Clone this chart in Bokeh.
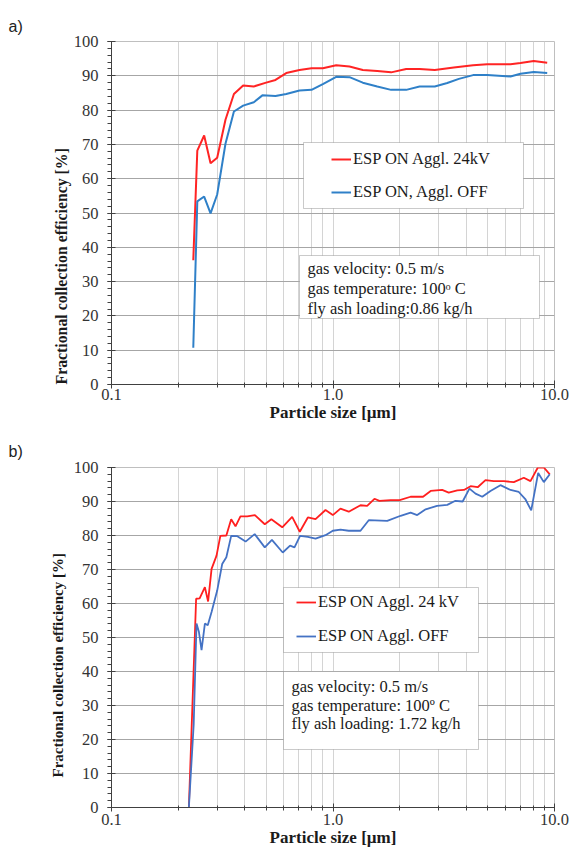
from bokeh.plotting import figure
from bokeh.layouts import column
from bokeh.models import (FixedTicker, PrintfTickFormatter, Label, BoxAnnotation,
                          Legend, LegendItem, Title)
from bokeh.embed import file_html
from bokeh.resources import INLINE

# ---------------- data ----------------
x_major = [0.1, 1.0, 10.0]
x_minor = [0.2, 0.3, 0.4, 0.5, 0.6, 0.7, 0.8, 0.9, 2, 3, 4, 5, 6, 7, 8, 9]
y_major = [0, 10, 20, 30, 40, 50, 60, 70, 80, 90, 100]
y_minor = list(range(0, 101, 2))

# panel a) fly ash loading 0.86 kg/h
size_a_on = [0.234, 0.244, 0.262, 0.280, 0.300, 0.327, 0.357, 0.393, 0.439, 0.499,
             0.550, 0.615, 0.706, 0.80, 0.90, 1.034, 1.187, 1.363, 1.584, 1.83,
             2.14, 2.46, 2.88, 3.51, 4.29, 4.97, 6.33, 7.02, 8.06, 9.27]
eff_a_on = [36.2, 68.2, 72.6, 64.5, 66.1, 77.2, 84.7, 87.2, 86.9, 88.0,
            88.8, 90.8, 91.7, 92.2, 92.2, 93.1, 92.7, 91.7, 91.4, 91.0,
            92.0, 92.0, 91.7, 92.4, 93.1, 93.4, 93.4, 93.7, 94.3, 93.8]
size_a_off = [0.234, 0.244, 0.262, 0.280, 0.300, 0.327, 0.357, 0.393, 0.439, 0.48,
              0.55, 0.615, 0.706, 0.80, 0.90, 1.034, 1.187, 1.363, 1.584, 1.83,
              2.14, 2.46, 2.88, 3.28, 3.70, 4.29, 4.97, 6.33, 7.02, 8.06, 9.27]
eff_a_off = [10.7, 53.4, 54.8, 49.9, 55.4, 70.2, 79.6, 81.3, 82.3, 84.3,
             84.1, 84.7, 85.7, 85.9, 87.6, 89.7, 89.6, 88.0, 86.9, 85.9,
             85.9, 86.9, 86.9, 87.9, 89.1, 90.2, 90.2, 89.8, 90.6, 91.1, 90.8]

# panel b) fly ash loading 1.72 kg/h
size_b_on = [0.2235, 0.241, 0.25, 0.264, 0.273, 0.283, 0.298, 0.310, 0.330, 0.347,
             0.363, 0.382, 0.410, 0.444, 0.492, 0.527, 0.590, 0.654, 0.708, 0.77,
             0.834, 0.925, 0.998, 1.081, 1.178, 1.331, 1.426, 1.539, 1.62, 1.82,
             2.0, 2.24, 2.55, 2.76, 3.11, 3.33, 3.64, 3.90, 4.18, 4.5,
             4.88, 5.32, 5.90, 6.55, 7.27, 7.79, 8.41, 8.95, 9.52]
eff_b_on = [0.0, 61.4, 61.5, 64.8, 60.6, 70.2, 74.1, 79.9, 80.0, 84.8,
            82.7, 85.6, 85.6, 86.0, 83.3, 84.8, 82.4, 85.5, 81.1, 85.3,
            84.8, 87.5, 86.0, 87.9, 87.0, 88.9, 88.7, 90.8, 90.2, 90.4,
            90.4, 91.4, 91.4, 93.1, 93.4, 92.6, 93.3, 93.4, 94.5, 94.2,
            96.3, 96.0, 96.0, 95.7, 97.0, 96.0, 100.0, 100.0, 98.0]
size_b_off = [0.2235, 0.235, 0.242, 0.248, 0.255, 0.264, 0.272, 0.283, 0.300, 0.316,
              0.330, 0.347, 0.37, 0.403, 0.443, 0.492, 0.53, 0.593, 0.64, 0.67,
              0.71, 0.77, 0.834, 0.925, 0.998, 1.081, 1.178, 1.331, 1.45, 1.757,
              2.02, 2.24, 2.4, 2.62, 2.95, 3.28, 3.57, 3.85, 4.13, 4.40,
              4.72, 5.14, 5.70, 6.33, 6.9, 7.40, 7.85, 8.44, 8.95, 9.52]
eff_b_off = [0.0, 24.4, 54.1, 51.7, 46.3, 54.1, 53.6, 57.5, 63.8, 71.6,
             73.6, 79.9, 79.8, 78.2, 80.4, 76.5, 78.7, 75.0, 77.0, 76.5,
             79.9, 79.6, 79.1, 80.1, 81.4, 81.7, 81.4, 81.4, 84.5, 84.3,
             85.8, 86.7, 86.0, 87.7, 88.7, 89.0, 90.2, 90.0, 93.8, 92.3,
             91.4, 93.1, 94.8, 93.4, 92.8, 90.6, 87.4, 98.4, 95.7, 98.0]

labels_a = ["ESP ON Aggl. 24kV", "ESP ON, Aggl. OFF"]
labels_b = ["ESP ON Aggl. 24 kV", "ESP ON Aggl. OFF"]
info_a = ["gas velocity:  0.5 m/s", "gas temperature:  100\u1d52 C", "fly ash loading:0.86 kg/h"]
info_b = ["gas velocity: 0.5 m/s", "gas temperature:   100\u00ba C", "fly ash loading: 1.72 kg/h"]
x_title = "Particle size [\u00b5m]"
y_title = "Fractional collection efficiency [%]"
panel_tags = ["a)", "b)"]

SERIF = "Liberation Serif"
SANS = "Liberation Sans"
AX = "#404040"
TXT = "#1a1a1a"


def make_fig(height, top, bottom, xlab_standoff):
    p = figure(width=571, height=height, x_axis_type="log", x_range=(0.1, 10),
               y_range=(0, 100), output_backend="svg", toolbar_location=None,
               min_border_left=111, min_border_right=17,
               min_border_top=top, min_border_bottom=bottom)
    p.outline_line_color = "#BFBFBF"
    p.background_fill_color = "white"
    p.border_fill_color = "white"
    p.xaxis.ticker = FixedTicker(ticks=x_major, minor_ticks=x_minor)
    p.xaxis.formatter = PrintfTickFormatter(format="%.1f")
    p.yaxis.ticker = FixedTicker(ticks=y_major, minor_ticks=y_minor)
    p.xgrid.grid_line_color = "#D4D4D4"
    p.xgrid.minor_grid_line_color = "#D4D4D4"
    p.ygrid.grid_line_color = "#A6A6A6"
    for ax in (p.xaxis, p.yaxis):
        ax.axis_line_color = AX
        ax.major_tick_line_color = AX
        ax.minor_tick_line_color = AX
        ax.major_tick_in = 4
        ax.major_tick_out = 4
        ax.major_label_text_font = SERIF
        ax.major_label_text_font_size = "16.5px"
        ax.major_label_text_color = "#333333"
    p.xaxis.minor_tick_in = 2
    p.xaxis.minor_tick_out = 3
    p.yaxis.minor_tick_in = 0
    p.yaxis.minor_tick_out = 4
    p.yaxis.major_label_standoff = 9
    p.xaxis.major_label_standoff = xlab_standoff
    p.xaxis.axis_label = x_title
    p.xaxis.axis_label_text_font = SERIF
    p.xaxis.axis_label_text_font_size = "17px"
    p.xaxis.axis_label_text_font_style = "bold"
    p.xaxis.axis_label_text_color = TXT
    p.xaxis.axis_label_standoff = 0
    return p


def lab(p, x, y, text, size="16.5px"):
    p.add_layout(Label(x=x, y=y, x_units="screen", y_units="screen", text=text,
                       text_font=SERIF, text_font_size=size,
                       text_color=TXT, text_align="left", text_baseline="middle"))


def box(p, left, right, bottom, top):
    p.add_layout(BoxAnnotation(left=left, right=right, bottom=bottom, top=top,
                               left_units="screen", right_units="screen",
                               bottom_units="screen", top_units="screen",
                               fill_color="white", fill_alpha=1.0,
                               line_color="#505050", line_width=1))


def ytitle(p, offset, size, standoff):
    p.add_layout(Title(text=y_title, align="left", offset=offset, standoff=standoff,
                       text_font=SERIF, text_font_size=size, text_font_style="bold",
                       text_color=TXT), "left")


def tag(p, text, standoff):
    p.add_layout(Title(text=text, align="left", offset=-103, standoff=standoff,
                       text_font=SANS, text_font_size="16px", text_font_style="normal",
                       text_color="#222222"), "above")


# ---------------- panel a ----------------
pa = make_fig(428, 41, 44, 0)
ra1 = pa.line(size_a_on, eff_a_on, line_color="#FF2424", line_width=2)
ra2 = pa.line(size_a_off, eff_a_off, line_color="#2F80C8", line_width=2)
box(pa, 192, 412, 176, 242)
pa.add_layout(Legend(items=[LegendItem(label=labels_a[0], renderers=[ra1]),
                            LegendItem(label=labels_a[1], renderers=[ra2])],
                     location=(220, 182), padding=0, spacing=13, margin=0,
                     glyph_width=20, glyph_height=20, label_height=20,
                     label_standoff=2, border_line_color=None,
                     background_fill_alpha=0, label_text_font=SERIF,
                     label_text_font_size="16.5px", label_text_color=TXT))
box(pa, 188, 428, 66, 129)
for i, t in enumerate(info_a):
    lab(pa, 196, 116 - 20 * i, t)
ytitle(pa, 0, "15.8px", 1)
tag(pa, panel_tags[0], 14)

# ---------------- panel b ----------------
pb = make_fig(426, 39, 47, 2)
rb1 = pb.line(size_b_on, eff_b_on, line_color="#FF1F1F", line_width=1.8)
rb2 = pb.line(size_b_off, eff_b_off, line_color="#4472C4", line_width=1.8)
box(pb, 172, 367, 155, 220)
pb.add_layout(Legend(items=[LegendItem(label=labels_b[0], renderers=[rb1]),
                            LegendItem(label=labels_b[1], renderers=[rb2])],
                     location=(185, 161), padding=0, spacing=14, margin=0,
                     glyph_width=20, glyph_height=20, label_height=20,
                     label_standoff=2, border_line_color=None,
                     background_fill_alpha=0, label_text_font=SERIF,
                     label_text_font_size="16.5px", label_text_color=TXT))
box(pb, 172, 367, 58, 136)
for i, t in enumerate(info_b):
    lab(pb, 180, 121 - 18.5 * i, t)
ytitle(pb, 30, "15px", 9)
tag(pb, panel_tags[1], 16)

layout = column(pa, pb, spacing=0)
open("out.html", "w").write(file_html(layout, INLINE))
